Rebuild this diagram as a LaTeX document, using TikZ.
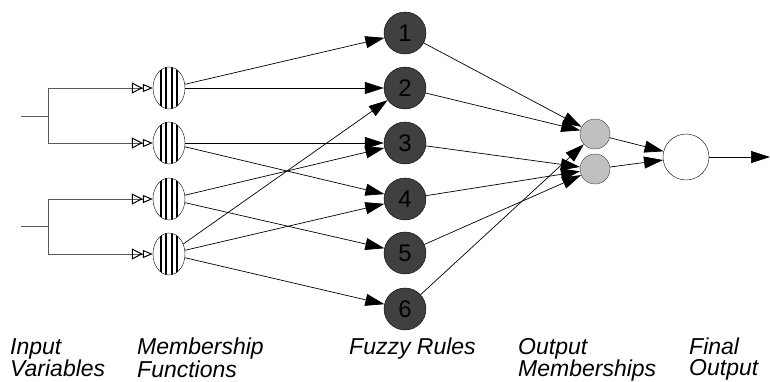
\documentclass[tikz,border=0pt]{standalone}
\usepackage{fontspec}
\setmainfont{Liberation Sans}
\usetikzlibrary{arrows.meta,shapes.geometric}

\definecolor{rulegray}{HTML}{404040}
\definecolor{outgray}{HTML}{C0C0C0}

\begin{document}
\begin{tikzpicture}[
  x=1pt, y=-1pt,
  every node/.style={font=\fontsize{24}{26}\selectfont},
  mf/.style={draw, ellipse, minimum width=32pt, minimum height=42pt, inner sep=0pt, fill=white,
    path picture={\foreach \dx in {-8,-3,3,8}
      \draw[line width=1.2pt] ([xshift=\dx pt]path picture bounding box.north) -- ([xshift=\dx pt]path picture bounding box.south);}},
  rule/.style={draw, circle, fill=rulegray, minimum size=42pt, inner sep=0pt},
  omf/.style={draw=black!75, circle, fill=outgray, minimum size=30pt, inner sep=0pt},
  final/.style={draw, circle, minimum size=46pt, inner sep=0pt},
  arrow/.style={-{Triangle[length=19pt,width=12pt]}, line width=0.7pt},
  tree/.style={draw=black!65, line width=1pt},
  feed/.style={tree, -{Triangle[open,length=11pt,width=11pt,black]Triangle[open,length=10pt,width=8pt,black]}},
  caption/.style={anchor=north west, inner sep=0pt, align=left, font=\fontsize{23}{20.5}\selectfont\itshape}
]
  \useasboundingbox (0,0) rectangle (770,381);

  % Membership functions and rules
  \foreach \i/\y in {1/88,2/143,3/199,4/254}
    \node[mf] (mf\i) at (169,\y) {};
  \foreach \i/\y in {1/33,2/88,3/143,4/199,5/253,6/309}
    \node[rule] (r\i) at (405,\y) {\i};

  % Output memberships and final output
  \node[omf] (om1) at (595,134) {};
  \node[omf] (om2) at (595,169) {};
  \node[final] (out) at (686,157) {};
  \coordinate (end) at (770,157);

  % Input variables
  \coordinate (in1) at (21,116);
  \coordinate (fork1) at (48,116);
  \coordinate (in2) at (21,226);
  \coordinate (fork2) at (48,226);
  \draw[tree] (in1) -- (fork1);
  \draw[tree] (in2) -- (fork2);
  \draw[feed] (fork1) |- (mf1);
  \draw[feed] (fork1) |- (mf2);
  \draw[feed] (fork2) |- (mf3);
  \draw[feed] (fork2) |- (mf4);

  % Connections
  \foreach \a/\b in {1/1,1/2,2/3,2/4,3/3,3/5,4/2,4/4,4/6}
    \draw[arrow] (mf\a) -- (r\b);
  \foreach \a/\b in {1/1,2/1,6/1,3/2,4/2,5/2}
    \draw[arrow] (r\a) -- (om\b);
  \draw[arrow] (om1) -- (out);
  \draw[arrow] (om2) -- (out);
  \draw[arrow] (out) -- (end);

  % Captions
  \node[caption] (capin) at (10,338) {Input\\Variables};
  \node[caption] (capmf) at (137,338) {Membership\\Functions};
  \node[caption] (caprule) at (349,338) {Fuzzy Rules};
  \node[caption] (capom) at (518,338) {Output\\Memberships};
  \node[caption] (capout) at (689,338) {Final\\Output};
\end{tikzpicture}
\end{document}
